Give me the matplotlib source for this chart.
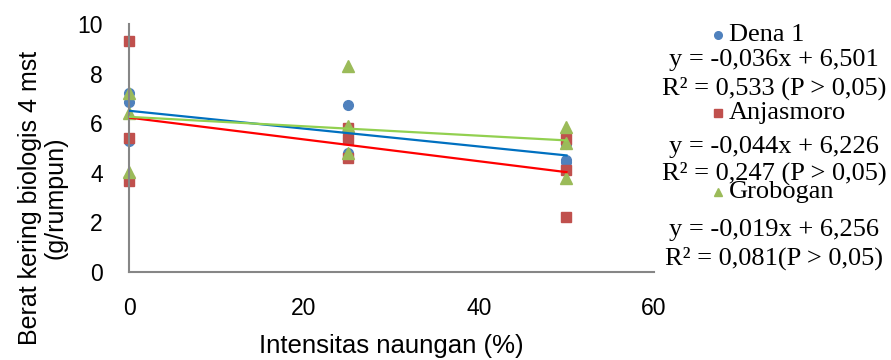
import numpy as np
import matplotlib.pyplot as plt
from matplotlib.lines import Line2D

# shading intensity (%) and dry weight per variety
naungan = [0, 0, 0, 25, 25, 25, 50, 50, 50]
dena1 = [7.2, 6.85, 5.3, 6.75, 5.4, 4.8, 5.15, 4.45, 4.5]
anjasmoro = [9.3, 5.4, 3.65, 5.8, 5.35, 4.6, 5.35, 4.1, 2.2]
grobogan = [7.2, 6.4, 4.05, 8.3, 5.9, 4.8, 5.85, 5.2, 3.8]

names = ["Dena 1", "Anjasmoro", "Grobogan"]
slopes = [-0.036, -0.044, -0.019]
intercepts = [6.501, 6.226, 6.256]
eq_text = ["y = -0,036x + 6,501", "y = -0,044x + 6,226", "y = -0,019x + 6,256"]
r2_text = ["R² = 0,533 (P > 0,05)", "R² = 0,247 (P > 0,05)", "R² = 0,081(P > 0,05)"]

mark_col = ["#4F81BD", "#C0504D", "#9BBB59"]
line_col = ["#0070C0", "#FF0000", "#92D050"]
markers = ["o", "s", "^"]

fig = plt.figure(figsize=(8.91, 3.6), dpi=100)
ax = fig.add_axes([0.1448, 0.2444, 0.5892, 0.6890])

series = [dena1, anjasmoro, grobogan]
for i, ys in enumerate(series):
    ax.plot(naungan, ys, linestyle="none", marker=markers[i], color=mark_col[i],
            ms=7 if i < 2 else 8, mec=mark_col[i], zorder=2, clip_on=False)

xfit = np.array([min(naungan), max(naungan)])
for i in range(3):
    ax.plot(xfit, slopes[i] * xfit + intercepts[i], color=line_col[i], lw=1.6, zorder=3)

ax.set_xlim(0, 60)
ax.set_ylim(0, 10)
ax.set_xticks([0, 20, 40, 60])
ax.set_yticks([0, 2, 4, 6, 8, 10])
for s in ["top", "right"]:
    ax.spines[s].set_visible(False)
for s in ["left", "bottom"]:
    ax.spines[s].set_color("#868686")
    ax.spines[s].set_linewidth(1.5)
ax.tick_params(length=0, labelsize=16.5)
ax.tick_params(axis="x", pad=18)
ax.tick_params(axis="y", pad=19)
for lab in ax.get_xticklabels() + ax.get_yticklabels():
    lab.set_family("Liberation Sans")

ax.set_xlabel("Intensitas naungan (%)", fontsize=18.5, family="Liberation Sans", labelpad=10)
ax.set_ylabel("Berat kering biologis 4 mst\n(g/rumpun)", fontsize=18,
              family="Liberation Sans", linespacing=1.05)
ax.yaxis.set_label_coords(-0.118, 0.30)

# legend block on the right, built by hand
W, H = 891.0, 360.0
name_y = [35, 113, 192]
eq_y = [60, 147, 230]
r2_y = [88, 173, 258]
serif = "Liberation Serif"
for i in range(3):
    fig.add_artist(Line2D([718 / W], [1 - name_y[i] / H], marker=markers[i], color=mark_col[i],
                          ms=5.5, linestyle="none", transform=fig.transFigure))
    fig.text(729 / W, 1 - name_y[i] / H, names[i], fontsize=19, family=serif, va="center", ha="left")
    fig.text(774 / W, 1 - eq_y[i] / H, eq_text[i], fontsize=19, family=serif, va="center", ha="center")
    fig.text(774 / W, 1 - r2_y[i] / H, r2_text[i], fontsize=19, family=serif, va="center", ha="center")

fig.savefig("out.png", dpi=100)
